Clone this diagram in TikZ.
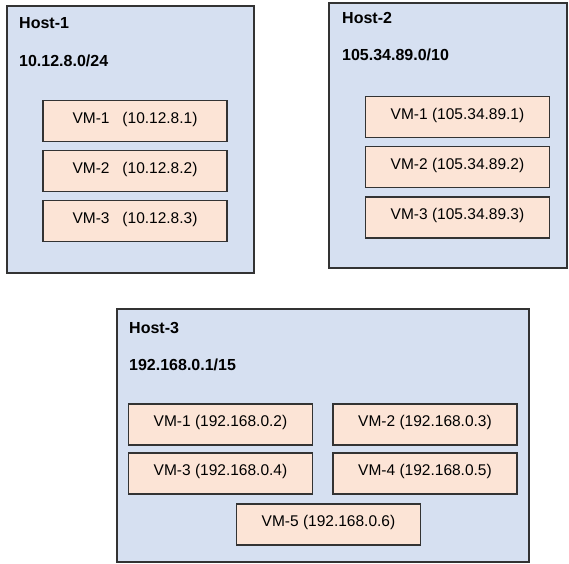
\documentclass[tikz,border=0pt]{standalone}
\usepackage{fontspec}
\setmainfont{Liberation Sans}
\definecolor{hostblue}{HTML}{D6E0F1}
\definecolor{vmpeach}{HTML}{FCE4D6}
\definecolor{edgegray}{HTML}{333333}
\tikzset{
 host/.style={draw=edgegray,fill=hostblue,line width=1.3pt,inner sep=0pt},
 hosttext/.style={anchor=west,inner sep=0pt,font=\fontsize{16}{19}\selectfont\bfseries},
 vm/.style={draw=edgegray,fill=vmpeach,line width=1.1pt,minimum width=184,minimum height=41,inner sep=0pt,text depth=6.5pt,font=\fontsize{15.5}{18}\selectfont}
}

\begin{document}
\begin{tikzpicture}[x=1pt,y=-1pt]
\useasboundingbox (0,0) rectangle (569,563);
% hosts
\node[host,minimum width=247,minimum height=267] (h1) at (130.5,139.5) {};
\node[host,minimum width=238,minimum height=265] (h2) at (448,135.5) {};
\node[host,minimum width=412,minimum height=253] (h3) at (323,435.5) {};
\node[hosttext] (h1name) at (19,23) {Host-1};
\node[hosttext] (h1net) at (19,61) {10.12.8.0/24};
\node[hosttext] (h2name) at (342,18) {Host-2};
\node[hosttext] (h2net) at (342,55) {105.34.89.0/10};
\node[hosttext] (h3name) at (129,328) {Host-3};
\node[hosttext] (h3net) at (129,365) {192.168.0.1/15};
% vms
\foreach \i/\y in {1/121,2/171,3/221}
 \node[vm] (h1vm\i) at (135,\y) {VM-\i\ \ \ (10.12.8.\i)};
\foreach \i/\y in {1/117,2/167,3/217.5}
 \node[vm] (h2vm\i) at (457.5,\y) {VM-\i\ (105.34.89.\i)};
\foreach \i/\x/\y in {1/220.5/424.5,2/425/424.5,3/220.5/473.5,4/425/473.5,5/328.5/524.5} {
 \pgfmathtruncatemacro\ip{\i+1}
 \node[vm] (h3vm\i) at (\x,\y) {VM-\i\ (192.168.0.\ip)};
 }
\end{tikzpicture}
\end{document}
